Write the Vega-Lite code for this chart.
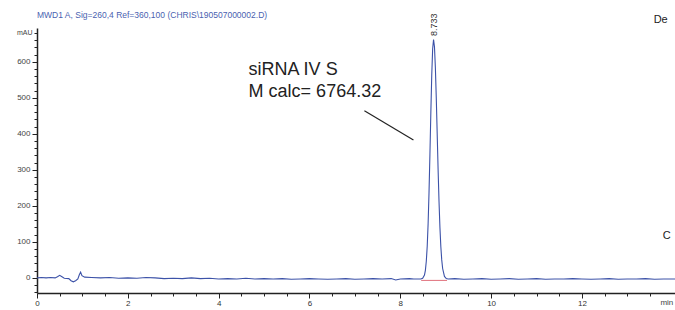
{
  "$schema": "https://vega.github.io/schema/vega-lite/v6.json",
  "autosize": {"type": "none"},
  "width": 638,
  "height": 265,
  "padding": {"left": 37, "top": 28, "right": 0, "bottom": 17},
  "background": "white",
  "config": {"view": {"stroke": null}, "font": "Liberation Sans"},
  "datasets": {
    "trace": [
      {"t": 0, "v": 0}, {"t": 0.1, "v": 1}, {"t": 0.2, "v": 0}, {"t": 0.3, "v": 1}, {"t": 0.4, "v": 0},
      {"t": 0.45, "v": 3}, {"t": 0.5, "v": 7}, {"t": 0.55, "v": 3}, {"t": 0.6, "v": -1}, {"t": 0.7, "v": -2},
      {"t": 0.75, "v": -8}, {"t": 0.8, "v": -11}, {"t": 0.85, "v": -8}, {"t": 0.9, "v": -3}, {"t": 0.93, "v": 8},
      {"t": 0.96, "v": 16}, {"t": 0.99, "v": 6}, {"t": 1.05, "v": 2}, {"t": 1.2, "v": 1}, {"t": 1.4, "v": 0},
      {"t": 1.6, "v": 1}, {"t": 1.8, "v": -1}, {"t": 2.0, "v": 0}, {"t": 2.2, "v": -1}, {"t": 2.4, "v": 1},
      {"t": 2.6, "v": 0}, {"t": 2.8, "v": -2}, {"t": 3.0, "v": -1}, {"t": 3.2, "v": -2}, {"t": 3.4, "v": 0},
      {"t": 3.6, "v": -2}, {"t": 3.8, "v": -1}, {"t": 4.0, "v": -3}, {"t": 4.2, "v": -2}, {"t": 4.4, "v": -3},
      {"t": 4.6, "v": -1}, {"t": 4.8, "v": -3}, {"t": 5.0, "v": -2}, {"t": 5.2, "v": -3}, {"t": 5.4, "v": -2},
      {"t": 5.6, "v": -4}, {"t": 5.8, "v": -3}, {"t": 6.0, "v": -2}, {"t": 6.2, "v": -3}, {"t": 6.4, "v": -4},
      {"t": 6.6, "v": -3}, {"t": 6.8, "v": -2}, {"t": 7.0, "v": -4}, {"t": 7.2, "v": -3}, {"t": 7.4, "v": -2},
      {"t": 7.6, "v": -3}, {"t": 7.8, "v": -2}, {"t": 7.9, "v": -6}, {"t": 8.0, "v": -3}, {"t": 8.2, "v": -2},
      {"t": 8.3, "v": -3}, {"t": 8.4, "v": -3},
      {"t": 8.453, "v": -3}, {"t": 8.493, "v": -1}, {"t": 8.533, "v": 8}, {"t": 8.553, "v": 21}, {"t": 8.573, "v": 46},
      {"t": 8.593, "v": 87}, {"t": 8.613, "v": 150}, {"t": 8.633, "v": 237}, {"t": 8.653, "v": 343}, {"t": 8.673, "v": 458},
      {"t": 8.693, "v": 562}, {"t": 8.713, "v": 636}, {"t": 8.733, "v": 662}, {"t": 8.753, "v": 642}, {"t": 8.773, "v": 584},
      {"t": 8.793, "v": 499}, {"t": 8.813, "v": 400}, {"t": 8.833, "v": 301}, {"t": 8.853, "v": 213}, {"t": 8.873, "v": 141},
      {"t": 8.893, "v": 87}, {"t": 8.913, "v": 50}, {"t": 8.933, "v": 26}, {"t": 8.973, "v": 4}, {"t": 9.013, "v": -2},
      {"t": 9.053, "v": -3}, {"t": 9.2, "v": -2}, {"t": 9.4, "v": -4}, {"t": 9.6, "v": -3}, {"t": 9.8, "v": -2},
      {"t": 10.0, "v": -4}, {"t": 10.2, "v": -3}, {"t": 10.4, "v": -2}, {"t": 10.6, "v": -4}, {"t": 10.8, "v": -3},
      {"t": 11.0, "v": -2}, {"t": 11.2, "v": -4}, {"t": 11.4, "v": -3}, {"t": 11.6, "v": -3}, {"t": 11.8, "v": -2},
      {"t": 12.0, "v": -3}, {"t": 12.2, "v": -4}, {"t": 12.4, "v": -3}, {"t": 12.6, "v": -2}, {"t": 12.8, "v": -4},
      {"t": 13.0, "v": -3}, {"t": 13.2, "v": -3}, {"t": 13.4, "v": -2}, {"t": 13.6, "v": -4}, {"t": 13.8, "v": -3},
      {"t": 14.05, "v": -3}
    ],
    "base": [{"t": 8.46, "v": -7}, {"t": 9.03, "v": -7}],
    "pointer": [{"t": 7.21, "v": 464, "t2": 8.29, "v2": 383}]
  },
  "resolve": {"axis": {"x": "independent", "y": "independent"}},
  "layer": [
    {
      "data": {"name": "trace"},
      "mark": {"type": "line", "color": "#3c52a8", "strokeWidth": 1.1, "clip": true},
      "encoding": {
        "x": {"field": "t", "type": "quantitative",
          "scale": {"domain": [0, 14.05], "nice": false, "zero": false},
          "axis": {"orient": "bottom", "values": [0, 2, 4, 6, 8, 10, 12], "title": null, "grid": false,
            "tickSize": 5, "tickColor": "#222", "domainColor": "#222", "domainWidth": 1.5,
            "labelFontSize": 8, "labelColor": "#333", "labelPadding": 1, "labelFlush": false}},
        "y": {"field": "v", "type": "quantitative",
          "scale": {"domain": [-42, 694], "nice": false, "zero": false},
          "axis": {"orient": "left", "values": [0, 100, 200, 300, 400, 500, 600], "grid": false,
            "tickSize": 5, "tickColor": "#222", "domainColor": "#222", "domainWidth": 1.5,
            "labelFontSize": 8, "labelColor": "#444", "labelPadding": 2,
            "title": "mAU", "titleAngle": 0, "titleAlign": "right", "titleBaseline": "middle",
            "titleX": -5, "titleY": 4, "titleFontSize": 7, "titleFontWeight": "normal", "titleColor": "#444"}}
      }
    },
    {
      "data": {"name": "base"},
      "mark": {"type": "line", "color": "#e0707c", "strokeWidth": 1},
      "encoding": {
        "x": {"field": "t", "type": "quantitative",
          "scale": {"domain": [0, 14.05], "nice": false, "zero": false},
          "axis": {"orient": "bottom", "values": [0.5, 1, 1.5, 2.5, 3, 3.5, 4.5, 5, 5.5, 6.5, 7, 7.5, 8.5, 9, 9.5, 10.5, 11, 11.5, 12.5, 13, 13.5],
            "title": null, "grid": false, "labels": false, "domain": false, "tickSize": 3, "tickColor": "#222"}},
        "y": {"field": "v", "type": "quantitative",
          "scale": {"domain": [-42, 694], "nice": false, "zero": false},
          "axis": {"orient": "left", "values": [-40, -20, 20, 40, 60, 80, 120, 140, 160, 180, 220, 240, 260, 280, 320, 340, 360, 380, 420, 440, 460, 480, 520, 540, 560, 580, 620, 640, 660, 680],
            "title": null, "grid": false, "labels": false, "domain": false, "tickSize": 3, "tickColor": "#222"}}
      }
    },
    {
      "data": {"name": "pointer"},
      "mark": {"type": "rule", "color": "#222", "strokeWidth": 1.2},
      "encoding": {
        "x": {"field": "t", "type": "quantitative", "axis": null},
        "y": {"field": "v", "type": "quantitative", "axis": null},
        "x2": {"field": "t2"},
        "y2": {"field": "v2"}
      }
    },
    {
      "data": {"values": [{"t": 4.66, "v": 564, "label": "siRNA IV S"}, {"t": 4.66, "v": 503, "label": "M calc= 6764.32"}]},
      "mark": {"type": "text", "align": "left", "baseline": "alphabetic", "fontSize": 18, "color": "#222"},
      "encoding": {
        "x": {"field": "t", "type": "quantitative", "axis": null},
        "y": {"field": "v", "type": "quantitative", "axis": null},
        "text": {"field": "label"}
      }
    },
    {
      "data": {"values": [{"t": 0, "v": 730, "label": "MWD1 A, Sig=260,4 Ref=360,100 (CHRIS\\190507000002.D)"}]},
      "mark": {"type": "text", "align": "left", "baseline": "middle", "fontSize": 8.5, "color": "#4a5fb0"},
      "encoding": {
        "x": {"field": "t", "type": "quantitative", "axis": null},
        "y": {"field": "v", "type": "quantitative", "axis": null},
        "text": {"field": "label"}
      }
    },
    {
      "data": {"values": [{"t": 8.733, "v": 703, "label": "8.733"}]},
      "mark": {"type": "text", "align": "center", "baseline": "middle", "angle": 270, "fontSize": 9, "color": "#333"},
      "encoding": {
        "x": {"field": "t", "type": "quantitative", "axis": null},
        "y": {"field": "v", "type": "quantitative", "axis": null},
        "text": {"field": "label"}
      }
    },
    {
      "data": {"values": [{"t": 13.58, "v": 717, "label": "De"}, {"t": 13.78, "v": 117, "label": "C"}]},
      "mark": {"type": "text", "align": "left", "baseline": "middle", "fontSize": 11, "color": "#222"},
      "encoding": {
        "x": {"field": "t", "type": "quantitative", "axis": null},
        "y": {"field": "v", "type": "quantitative", "axis": null},
        "text": {"field": "label"}
      }
    },
    {
      "data": {"values": [{"t": 13.87, "v": -69, "label": "min"}]},
      "mark": {"type": "text", "align": "center", "baseline": "middle", "fontSize": 8, "color": "#444"},
      "encoding": {
        "x": {"field": "t", "type": "quantitative", "axis": null},
        "y": {"field": "v", "type": "quantitative", "axis": null},
        "text": {"field": "label"}
      }
    }
  ]
}
